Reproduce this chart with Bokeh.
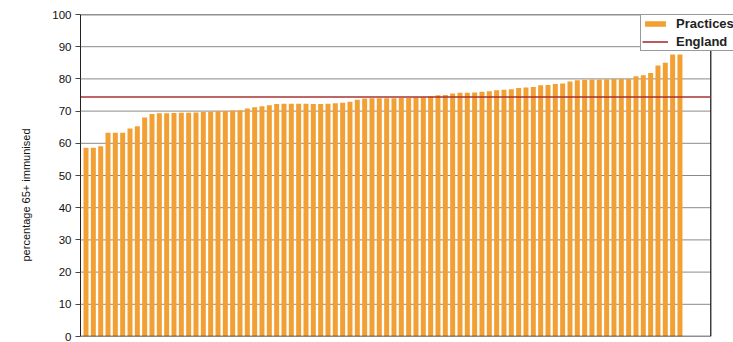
from bokeh.plotting import figure
from bokeh.models import Range1d, Legend, LegendItem, SingleIntervalTicker, ColumnDataSource, Title
from bokeh.embed import file_html
from bokeh.resources import INLINE

practice_values = [
    58.6, 58.6, 59.1, 63.3, 63.3, 63.3, 64.6, 65.3, 68.0, 69.1,
    69.3, 69.3, 69.4, 69.5, 69.5, 69.6, 69.7, 69.8, 70.0, 70.0,
    70.2, 70.3, 70.8, 71.2, 71.5, 71.8, 72.2, 72.3, 72.3, 72.3,
    72.3, 72.2, 72.2, 72.3, 72.4, 72.6, 72.9, 73.5, 73.9, 74.0,
    74.0, 74.0, 74.0, 74.1, 74.1, 74.2, 74.3, 74.5, 74.9, 75.0,
    75.5, 75.7, 75.7, 75.8, 76.0, 76.2, 76.5, 76.6, 76.8, 77.2,
    77.3, 77.5, 78.0, 78.1, 78.4, 78.6, 79.2, 79.6, 79.7, 79.8,
    79.8, 79.9, 80.0, 80.0, 80.0, 80.8, 81.1, 81.8, 84.2, 85.0,
    87.6, 87.6,
]
england_value = 74.4
y_label = "percentage 65+ immunised"
legend_labels = ["Practices", "England"]
y_ticks = [0, 10, 20, 30, 40, 50, 60, 70, 80, 90, 100]

x_idx = list(range(len(practice_values)))
x_start = -0.75      # left edge of the chart box
x_box_end = 85.2     # right edge of the chart box
x_end = 88.3         # canvas right edge (room for legend)

FONT = "Liberation Sans"

p = figure(width=733, height=342, output_backend="svg", toolbar_location=None,
           x_range=Range1d(x_start, x_end), y_range=Range1d(0, 100),
           min_border_left=80, min_border_right=0, min_border_top=14, min_border_bottom=6)
p.background_fill_color = "white"
p.border_fill_color = "white"
p.outline_line_color = None

# horizontal grid lines limited to the chart box
grid_y = y_ticks[1:-1]
p.segment(x0=[x_start] * len(grid_y), x1=[x_box_end] * len(grid_y), y0=grid_y, y1=grid_y,
          line_color="#8a8a8a", line_width=1)

src = ColumnDataSource(dict(x=x_idx, top=practice_values))
bars = p.vbar(x="x", top="top", width=0.68, bottom=0, source=src,
              fill_color="#F2A033", line_color=None)

# box: top, right and bottom edges
p.segment(x0=[x_start, x_box_end, x_start], x1=[x_box_end, x_box_end, x_box_end],
          y0=[y_ticks[-1], y_ticks[0], y_ticks[0]], y1=[y_ticks[-1], y_ticks[-1], y_ticks[0]],
          line_color="#222222", line_width=1.3)

eng = p.line(x=[x_start, x_box_end], y=[england_value, england_value],
             line_color="#A83232", line_width=1.6)

p.xaxis.visible = False
p.xgrid.visible = False
p.ygrid.visible = False

ya = p.yaxis[0]
ya.ticker = SingleIntervalTicker(interval=10)
ya.minor_tick_line_color = None
ya.major_tick_out = 5
ya.major_tick_in = 0
ya.axis_line_color = "#222222"
ya.major_tick_line_color = "#444444"
ya.major_label_text_font = FONT
ya.major_label_text_font_size = "11.5px"
ya.major_label_text_color = "#111111"
ya.major_label_standoff = 4

ytitle = Title(text=y_label, align="left", offset=75, standoff=31, vertical_align="top",
               text_font=FONT, text_font_size="11px", text_font_style="normal",
               text_color="#111111")
p.add_layout(ytitle, "left")

legend = Legend(items=[LegendItem(label=legend_labels[0], renderers=[bars]),
                       LegendItem(label=legend_labels[1], renderers=[eng])],
                location=(560, 285))
legend.label_text_font = FONT
legend.label_text_font_size = "13px"
legend.label_text_font_style = "bold"
legend.label_text_color = "#222222"
legend.border_line_color = "#333333"
legend.border_line_width = 1
legend.background_fill_color = "white"
legend.background_fill_alpha = 1
legend.padding = 1
legend.spacing = 3
legend.margin = 0
legend.glyph_height = 7
legend.glyph_width = 26
legend.label_height = 14
legend.label_standoff = 8
p.add_layout(legend, "center")

open("out.html", "w").write(file_html(p, INLINE))
